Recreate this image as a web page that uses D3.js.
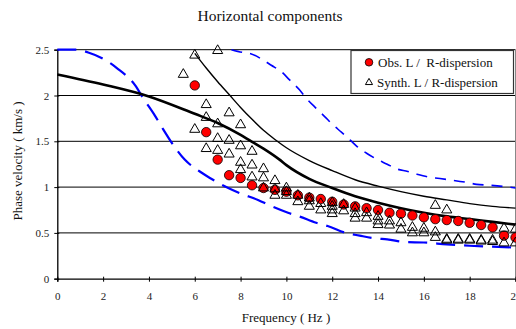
<!DOCTYPE html>
<html>
<head>
<meta charset="utf-8">
<script src="https://cdn.jsdelivr.net/npm/d3@7"></script>
<style>
  body { margin: 0; background: #fff; }
  svg { display: block; font-family: "Liberation Serif", "Times New Roman", serif; }
</style>
</head>
<body>
<div id="chart"></div>
<script>
// observed dispersion (red dots)
var obsFreq = [6, 6.5, 7, 7.5, 8, 8.5, 9, 9.5, 10, 10.5, 11, 11.5, 12, 12.5, 13, 13.5, 14, 14.5, 15, 15.5, 16, 16.5, 17, 17.5, 18, 18.5, 19, 19.5, 20];
var obsVel = [2.11, 1.60, 1.30, 1.13, 1.10, 1.02, 0.99, 0.97, 0.95, 0.91, 0.885, 0.87, 0.84, 0.81, 0.79, 0.77, 0.75, 0.72, 0.71, 0.69, 0.67, 0.65, 0.64, 0.63, 0.61, 0.586, 0.56, 0.47, 0.45];

// synthetic dispersion (triangles)
var synFreq = [5.5, 6, 6, 6.5, 6.5, 6.5, 7, 7, 7, 7, 7.5, 7.5, 7.5, 8, 8, 8, 8, 8.5, 8.5, 8.5,
  9, 9, 9, 9.5, 9.5, 9.5, 10, 10, 10, 10.5, 10.5, 11, 11, 11, 11.5, 11.5, 12, 12, 12, 12, 12.5, 12.5,
  13, 13, 13, 13.5, 13.5, 14, 14, 14, 14.5, 14.5, 15, 15, 15.5, 15.5, 16, 16, 16.5, 16.5, 16.5,
  17, 17, 17, 17.5, 17.5, 18, 18, 18.5, 18.5, 19, 19, 19.5, 19.5, 20, 20];
var synVel = [2.23, 2.44, 1.63, 1.90, 1.76, 1.42, 2.49, 1.69, 1.53, 1.40, 1.81, 1.51, 1.36, 1.68, 1.45, 1.27, 1.19, 1.39, 1.24, 1.11,
  1.20, 1.10, 0.99, 1.07, 0.98, 0.91, 0.99, 0.95, 0.91, 0.91, 0.84, 0.88, 0.85, 0.79, 0.82, 0.75, 0.83, 0.79, 0.75, 0.71, 0.81, 0.74,
  0.77, 0.71, 0.66, 0.72, 0.66, 0.68, 0.63, 0.59, 0.63, 0.585, 0.61, 0.54, 0.56, 0.50, 0.55, 0.50, 0.80, 0.51, 0.45,
  0.75, 0.43, 0.42, 0.42, 0.43, 0.42, 0.43, 0.41, 0.42, 0.405, 0.42, 0.55, 0.39, 0.54, 0.39];

// thick black curve
var thickFreq = [0, 2, 4, 6, 7, 8, 8.4, 9, 9.7, 10, 11, 12, 13, 14, 15, 16, 17, 18, 19, 20];
var thickVel = [2.23, 2.12, 1.99, 1.80, 1.70, 1.57, 1.51, 1.42, 1.30, 1.24, 1.09, 0.99, 0.90, 0.83, 0.77, 0.72, 0.68, 0.65, 0.62, 0.59];

// thin black curve
var thinFreq = [6, 6.5, 7, 7.5, 8, 8.5, 9, 9.5, 10, 11, 12, 13, 14, 15, 16, 17, 18, 19, 20];
var thinVel = [2.46, 2.30, 2.15, 2.01, 1.87, 1.74, 1.62, 1.52, 1.43, 1.29, 1.18, 1.08, 1.01, 0.95, 0.90, 0.86, 0.82, 0.79, 0.77];

// blue dashed curves (bounds)
var lowFreq = [0, 0.85, 1.35, 2.15, 2.6, 3.4, 3.75, 4.26, 4.55, 5.06, 5.56, 6.22, 6.66, 7.46, 8, 8.76, 9.27, 10.07, 10.56, 11.3, 11.8, 12.6, 13.2, 13.9, 14.4, 15.2, 16, 17, 18, 19, 20];
var lowVel = [2.5, 2.5, 2.47, 2.38, 2.30, 2.11, 1.97, 1.78, 1.66, 1.46, 1.30, 1.17, 1.10, 0.99, 0.93, 0.86, 0.80, 0.72, 0.68, 0.61, 0.575, 0.50, 0.47, 0.44, 0.43, 0.40, 0.395, 0.375, 0.36, 0.35, 0.34];
var highFreq = [7.6, 8.1, 8.4, 8.97, 9.34, 9.78, 10.14, 10.58, 10.87, 11.3, 11.67, 12.03, 12.4, 12.8, 13.1, 13.5, 13.9, 14.4, 14.8, 15.3, 15.7, 16.2, 16.5, 17.1, 17.9, 18.3, 18.9, 19.7, 20];
var highVel = [2.5, 2.47, 2.46, 2.39, 2.33, 2.26, 2.17, 2.06, 1.97, 1.86, 1.77, 1.68, 1.60, 1.51, 1.44, 1.37, 1.31, 1.25, 1.20, 1.17, 1.14, 1.11, 1.10, 1.08, 1.05, 1.03, 1.02, 1.00, 0.99];

var xTicks = [0, 2, 4, 6, 8, 10, 12, 14, 16, 18, 20];
var yTicks = [0, 0.5, 1, 1.5, 2, 2.5];

var width = 516, height = 329;
var serif = "Liberation Serif, Times New Roman, serif";
var svg = d3.select("#chart").append("svg")
  .attr("width", width)
  .attr("height", height);

var x = d3.scaleLinear().domain([0, 20]).range([57.3, 515.5]);
var y = d3.scaleLinear().domain([0, 2.5]).range([278.7, 49.7]);

function zip(a, b) { return a.map(function (v, i) { return [v, b[i]]; }); }

/* ------- GRID -------*/
svg.append("g").selectAll("line")
  .data(yTicks.filter(function (d) { return d > 0; }))
  .enter().append("line")
  .attr("x1", x(0)).attr("x2", x(20))
  .attr("y1", function (d) { return y(d); })
  .attr("y2", function (d) { return y(d); })
  .attr("stroke", "#000")
  .attr("stroke-width", 1);

svg.append("line")
  .attr("x1", x(20)).attr("x2", x(20))
  .attr("y1", y(2.5)).attr("y2", y(0))
  .attr("stroke", "#888");

/* ------- AXES -------*/
var xAxis = svg.append("g")
  .attr("transform", "translate(0," + y(0) + ")")
  .call(d3.axisBottom(x).tickValues(xTicks).tickSize(3).tickFormat(d3.format("d")))
  .attr("font-family", serif);
xAxis.select(".domain").attr("stroke", "#000").attr("stroke-width", 1.3);
xAxis.selectAll(".tick line").attr("y1", -2).attr("y2", 3);
xAxis.selectAll("text")
  .attr("y", 14).attr("dy", "0.71em")
  .style("font-size", "11px").style("fill", "#222")
  .style("font-family", serif);

var yAxis = svg.append("g")
  .attr("transform", "translate(" + x(0) + ",0)")
  .call(d3.axisLeft(y).tickValues(yTicks).tickSize(3).tickFormat(function (d) { return d; }))
  .attr("font-family", serif);
yAxis.select(".domain").attr("stroke", "#000").attr("stroke-width", 1.3);
yAxis.selectAll(".tick line").attr("x1", -3).attr("x2", 2);
yAxis.selectAll("text")
  .attr("x", -8)
  .style("font-size", "11px").style("fill", "#222")
  .style("font-family", serif);

/* ------- CURVES -------*/
var line = d3.line()
  .x(function (d) { return x(d[0]); })
  .y(function (d) { return y(d[1]); })
  .curve(d3.curveMonotoneX);

var plot = svg.append("g");

plot.append("path").datum(zip(lowFreq, lowVel))
  .attr("d", line).attr("fill", "none")
  .attr("stroke", "#0000ff").attr("stroke-width", 2.2)
  .attr("stroke-dasharray", "19,9");

plot.append("path").datum(zip(highFreq, highVel))
  .attr("d", line).attr("fill", "none")
  .attr("stroke", "#0000ff").attr("stroke-width", 1.6)
  .attr("stroke-dasharray", "11,8");

plot.append("path").datum(zip(thickFreq, thickVel))
  .attr("d", line).attr("fill", "none")
  .attr("stroke", "#000").attr("stroke-width", 2.6);

plot.append("path").datum(zip(thinFreq, thinVel))
  .attr("d", line).attr("fill", "none")
  .attr("stroke", "#000").attr("stroke-width", 1.4);

/* ------- MARKERS -------*/
plot.append("g").selectAll("circle")
  .data(zip(obsFreq, obsVel))
  .enter().append("circle")
  .attr("cx", function (d) { return x(d[0]); })
  .attr("cy", function (d) { return y(d[1]); })
  .attr("r", 4.7)
  .attr("fill", "#ff0000")
  .attr("stroke", "#000").attr("stroke-width", 0.8);

var tri = d3.symbol().type(d3.symbolTriangle).size(44);
plot.append("g").selectAll("path")
  .data(zip(synFreq, synVel))
  .enter().append("path")
  .attr("d", tri)
  .attr("transform", function (d) { return "translate(" + x(d[0]) + "," + y(d[1]) + ")"; })
  .attr("fill", "none")
  .attr("stroke", "#000").attr("stroke-width", 1);

/* ------- LEGEND -------*/
var legend = svg.append("g");
legend.append("rect")
  .attr("x", 351).attr("y", 50.5).attr("width", 162.5).attr("height", 43)
  .attr("fill", "#fff").attr("stroke", "#333").attr("stroke-width", 1.2);
legend.append("circle")
  .attr("cx", 369).attr("cy", 62.3).attr("r", 3.8)
  .attr("fill", "#ff0000").attr("stroke", "#000").attr("stroke-width", 0.8);
legend.append("path")
  .attr("d", d3.symbol().type(d3.symbolTriangle).size(22))
  .attr("transform", "translate(369,82.5)")
  .attr("fill", "none").attr("stroke", "#000").attr("stroke-width", 1);
legend.append("text").attr("x", 378).attr("y", 66.5)
  .style("font-size", "13px").attr("fill", "#111")
  .attr("xml:space", "preserve")
  .text("Obs. L /  R-dispersion");
legend.append("text").attr("x", 377).attr("y", 87)
  .style("font-size", "13px").attr("fill", "#111")
  .text("Synth. L / R-dispersion");

/* ------- TITLES -------*/
svg.append("text")
  .attr("x", 270).attr("y", 20.5)
  .attr("text-anchor", "middle")
  .style("font-size", "15.5px").attr("fill", "#111")
  .text("Horizontal components");

svg.append("text")
  .attr("x", 286).attr("y", 322)
  .attr("text-anchor", "middle")
  .style("font-size", "13px").attr("fill", "#111")
  .text("Frequency ( Hz )");

svg.append("text")
  .attr("transform", "translate(22,161) rotate(-90)")
  .attr("text-anchor", "middle")
  .style("font-size", "13px").attr("fill", "#111")
  .text("Phase velocity ( km/s )");
</script>
</body>
</html>
